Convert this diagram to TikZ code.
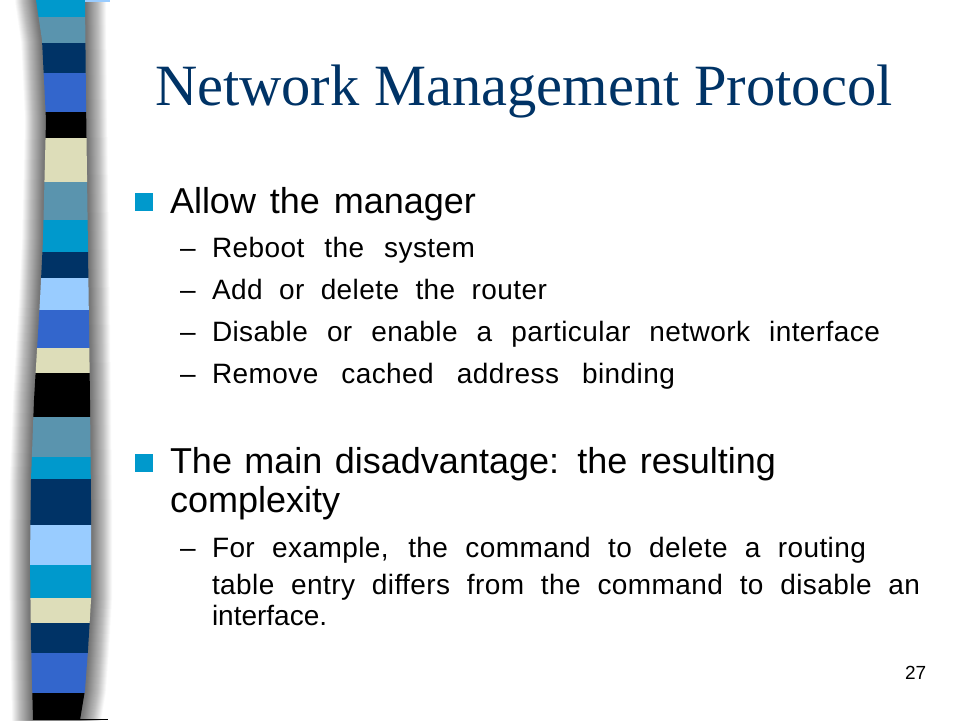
\documentclass[tikz,border=0pt]{standalone}
\usepackage{fontspec}
\setmainfont{Liberation Sans}
\newfontfamily\titlefont{Liberation Serif}
\newfontfamily\spacedfont[LetterSpace=1.5]{Liberation Sans}
\definecolor{titleblue}{RGB}{0,51,102}
\definecolor{bulletcyan}{RGB}{0,153,204}
\definecolor{scyan}{RGB}{0,153,204}
\definecolor{ssteel}{RGB}{90,148,174}
\definecolor{snavy}{RGB}{0,51,102}
\definecolor{sroyal}{RGB}{51,102,204}
\definecolor{scream}{RGB}{221,221,185}
\definecolor{slight}{RGB}{153,204,255}
\hbadness=100000
\tikzset{
  txt/.style={anchor=base west, inner sep=0pt, outer sep=0pt, text=black},
  lvlone/.style={txt, font=\fontsize{36}{43}\selectfont},
  lvltwo/.style={txt, font=\fontsize{28}{34}\selectfont},
  bulletsq/.style={fill=bulletcyan, draw=none},
}
\newcommand{\wline}[2]{\hbox to #1pt{#2}}
\newcommand{\wlinesp}[2]{\hbox to #1pt{\spacedfont #2}}
\newcommand{\mystrip}{(36,0) -- (42,40) -- (46,120) -- (44,200) -- (43,240) -- (40,300) -- (34,400) -- (31,480) -- (30,560) -- (31,640) -- (33,720) -- (80,720) -- (85,690) -- (88,650) -- (91,600) -- (91,500) -- (90,400) -- (88,250) -- (86,100) -- (85,0) -- cycle}
\begin{document}
\begin{tikzpicture}[x=1pt,y=-1pt]
\useasboundingbox (0,0) rectangle (960,720);
\fill[white] (0,0) rectangle (960,720);
% shadow
\begin{scope}
\clip (0,0) rectangle (960,720);
\foreach \w in {42,41,...,1} {
  \draw[line width=\w pt, black, opacity=0.014, line join=round] \mystrip;
}
\end{scope}
% strip blocks
\begin{scope}
\clip \mystrip;
\foreach \ya/\yb/\c in {0/17/scyan, 17/43/ssteel, 43/73/snavy, 73/112/sroyal, 112/138/black, 138/182/scream, 182/220/ssteel, 220/252/scyan, 252/278/snavy, 278/310/slight, 310/348/sroyal, 348/373/scream, 373/417/black, 417/457/ssteel, 457/479/scyan, 479/525/snavy, 525/565/slight, 565/598/scyan, 598/623/scream, 623/653/snavy, 653/693/sroyal, 693/720/black} {
  \fill[\c] (0,\ya) rectangle (120,\yb);
}
\end{scope}
\fill[slight] (85,0) rectangle (110,1.5);
\fill[black] (80,718.5) rectangle (108,720);
% title
\node[txt, text=titleblue, font=\titlefont\fontsize{58.5}{70}\selectfont] (title) at (155,105) {Network Management Protocol};
% first bullet
\fill[bulletsq] (135,193) rectangle (153,211);
\node[lvlone] (b1) at (170,213) {\wline{306}{Allow the manager}};
\node[lvltwo] (d1) at (180,257) {--};
\node[lvltwo] (s1) at (212,257) {\wlinesp{263}{Reboot the system}};
\node[lvltwo] (d2) at (180,299) {--};
\node[lvltwo] (s2) at (212,299) {\wlinesp{335}{Add or delete the router}};
\node[lvltwo] (d3) at (180,341) {--};
\node[lvltwo] (s3) at (212,341) {\wlinesp{668}{Disable or enable a particular network interface}};
\node[lvltwo] (d4) at (180,383) {--};
\node[lvltwo] (s4) at (212,383) {\wlinesp{463}{Remove cached address binding}};
% second bullet
\fill[bulletsq] (135,454) rectangle (153,472);
\node[lvlone] (b2a) at (170,473) {\wline{606}{The main disadvantage: the resulting}};
\node[lvlone] (b2b) at (170,512) {complexity};
\node[lvltwo] (d5) at (180,557) {--};
\node[lvltwo] (s5a) at (212,557) {\wlinesp{654}{For example, the command to delete a routing}};
\node[lvltwo] (s5b) at (212,594) {\wlinesp{708}{table entry differs from the command to disable an}};
\node[lvltwo] (s5c) at (212,625) {interface.};
% page number
\node[txt, font=\fontsize{19}{23}\selectfont] (page) at (905,679) {27};
\end{tikzpicture}
\end{document}
